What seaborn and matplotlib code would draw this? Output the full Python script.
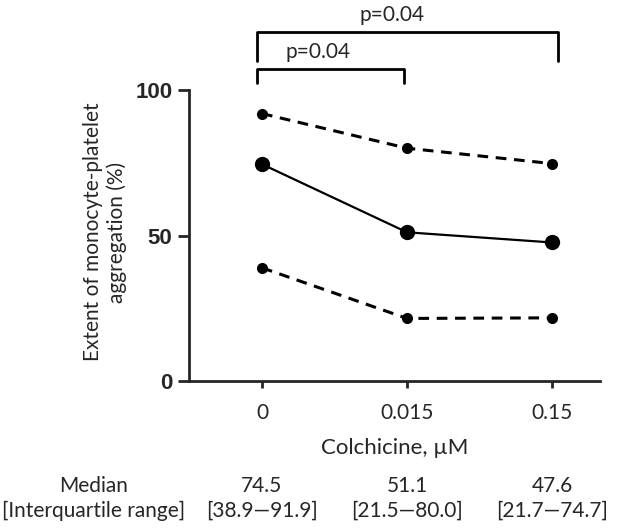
import numpy as np
import pandas as pd
import matplotlib
matplotlib.use('Agg')
import matplotlib.pyplot as plt
import seaborn as sns

# Veriler
doses = ['0', '0.015', '0.15']
median = [74.5, 51.1, 47.6]
q1 = [38.9, 21.5, 21.7]
q3 = [91.9, 80.0, 74.7]
p_values = ['p=0.04', 'p=0.04']

sns.set_style('ticks')
plt.rcParams['font.family'] = ['Lato', 'DejaVu Sans']

df = pd.DataFrame({'pos': range(len(doses)), 'median': median, 'q1': q1, 'q3': q3})

fig = plt.figure(figsize=(6.36, 5.28), dpi=100)
ax = fig.add_axes([189 / 636, 1 - 381 / 528, 411 / 636, 291 / 528])

# quartil cizgileri (kesikli)
for col in ['q3', 'q1']:
    sns.lineplot(data=df, x='pos', y=col, ax=ax, color='black', linewidth=2.2,
                 linestyle=(0, (3.5, 2.5)), marker='o', markersize=8, markeredgewidth=0)
# medyan cizgisi
sns.lineplot(data=df, x='pos', y='median', ax=ax, color='black', linewidth=1.6,
             marker='o', markersize=11, markeredgewidth=0)

ax.set_xlim(-0.503, 2.33)
ax.set_ylim(0, 100)
ax.set_yticks([0, 50, 100])
ax.set_yticklabels(['0', '50', '100'], fontsize=16, fontweight='bold',
                   family=['Liberation Sans', 'DejaVu Sans'])
ax.set_xticks(range(len(doses)))
ax.set_xticklabels(doses, fontsize=15)
ax.tick_params(axis='y', width=2, length=8, pad=4)
ax.tick_params(axis='x', width=2, length=5, pad=11)
for s in ['left', 'bottom']:
    ax.spines[s].set_linewidth(2)
sns.despine(ax=ax)

ax.set_xlabel('Colchicine, \u00b5M', fontsize=16, labelpad=11)
ax.set_ylabel('')
fig.text(105 / 636, 1 - 232 / 528, 'Extent of monocyte-platelet\naggregation (%)',
         rotation=90, ha='center', va='center', fontsize=15, linespacing=1.15,
         multialignment='center')

# anlamlilik parantezleri
brackets = [(-0.034, 0.979, 107.2, 102.4, 0.386, 113.1),
            (-0.034, 2.041, 119.9, 110.0, 0.897, 125.8)]
for (x0, x1, top, bot, tx, ty), p in zip(brackets, p_values):
    ax.plot([x0, x0, x1, x1], [bot, top, top, bot], color='black', lw=2, clip_on=False)
    ax.text(tx, ty, p, ha='center', va='center', fontsize=15)

# alt tablo
fig.text(94 / 636, 1 - 486 / 528, 'Median', ha='center', va='center', fontsize=15)
fig.text(94 / 636, 1 - 511 / 528, '[Interquartile range]', ha='center', va='center', fontsize=15)
row1 = -(486 - 381) / 291
row2 = -(511 - 381) / 291
for i in range(len(doses)):
    ax.text(i, row1, f'{median[i]:.1f}', transform=ax.get_xaxis_transform(),
            ha='center', va='center', fontsize=15)
    ax.text(i, row2, f'[{q1[i]:.1f}\u2014{q3[i]:.1f}]',
            transform=ax.get_xaxis_transform(), ha='center', va='center', fontsize=15)

fig.savefig('out.png', dpi=100)
